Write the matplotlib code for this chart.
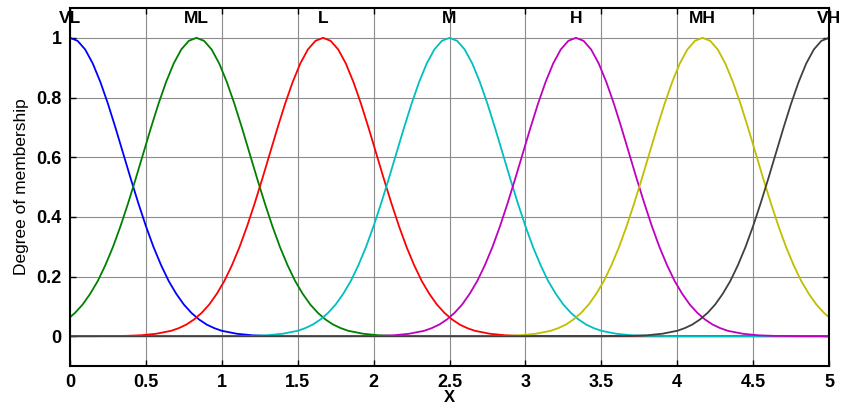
import numpy as np
import matplotlib.pyplot as plt

# Membership functions: centers (x 10^-3) and the shared bell profile
labels = ['VL', 'ML', 'L', 'M', 'H', 'MH', 'VH']
centers = [0.0, 0.833, 1.667, 2.5, 3.333, 4.167, 5.0]
colors = ['#0000ff', '#008000', '#ff0000', '#00bfbf', '#bf00bf', '#bfbf00', '#404040']

# distance from center (x 10^-3) -> degree of membership
dist = [0.0, 0.05, 0.1, 0.15, 0.2, 0.25, 0.3, 0.35, 0.4, 0.45, 0.5, 0.55,
        0.6, 0.65, 0.7, 0.75, 0.8, 0.85, 0.9, 0.95, 1.0, 1.1, 1.2, 1.3, 1.5, 5.5]
profile = [1.0, 0.99, 0.961, 0.914, 0.852, 0.779, 0.698, 0.613, 0.528, 0.446, 0.369, 0.299,
           0.238, 0.185, 0.142, 0.106, 0.078, 0.056, 0.039, 0.027, 0.018, 0.008, 0.003, 0.001, 0.0, 0.0]

xticks = [0, 0.5, 1, 1.5, 2, 2.5, 3, 3.5, 4, 4.5, 5]
xticklabels = ['0', '0.5', '1', '1.5', '2', '2.5', '3', '3.5', '4', '4.5', '5']
yticks = [0, 0.2, 0.4, 0.6, 0.8, 1]
yticklabels = ['0', '0.2', '0.4', '0.6', '0.8', '1']

plt.rcParams['font.family'] = ['Liberation Sans', 'DejaVu Sans']

fig = plt.figure(figsize=(8.44, 4.05), dpi=100)
ax = fig.add_axes([70 / 844, 39 / 405, 759 / 844, 358 / 405])

d = np.array(dist)
p = np.array(profile)
for lab, c, col in zip(labels, centers, colors):
    xs = np.concatenate([c - d[::-1], c + d[1:]])
    ys = np.concatenate([p[::-1], p[1:]])
    ax.plot(xs, ys, color=col, lw=1.3)
    ax.text(c, 1.04, lab, ha='center', va='bottom', fontsize=12.5, fontweight='bold')

ax.set_xlim(0, 5)
ax.set_ylim(-0.1, 1.1)
ax.set_xticks(xticks)
ax.set_xticklabels(xticklabels)
ax.set_yticks(yticks)
ax.set_yticklabels(yticklabels)
ax.grid(True, color='#8c8c8c', lw=0.8)
ax.set_axisbelow(True)
ax.tick_params(direction='in', top=True, right=True, labelsize=13, length=4, width=1, pad=6)
for t in ax.get_xticklabels() + ax.get_yticklabels():
    t.set_fontweight('bold')
for s in ax.spines.values():
    s.set_linewidth(1.5)

ax.set_xlabel('X', fontsize=12, fontweight='bold', labelpad=-1)
ax.set_ylabel('Degree of membership', fontsize=12.5, labelpad=5)
ax.text(1.0, -0.16, r'x 10$^{-3}$', transform=ax.transAxes, ha='right', va='top',
        fontsize=12.5, fontweight='bold')

fig.savefig('out.png', dpi=100)
